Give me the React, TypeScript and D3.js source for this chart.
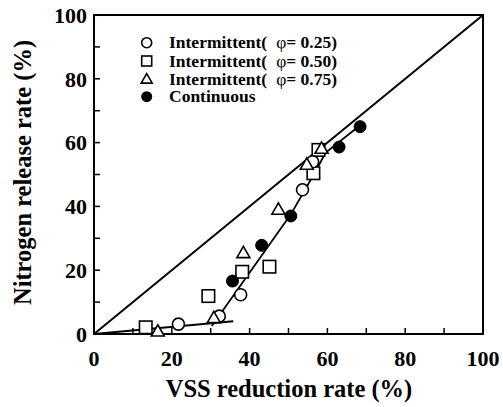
import React from "react";
import * as d3 from "d3";

const circles025: [number, number][] = [
  [21.7, 3.1], [32.2, 5.6], [37.7, 12.3], [53.6, 45.2], [56.2, 54.0],
];
const squares050: [number, number][] = [
  [13.3, 2.1], [29.4, 11.9], [38.1, 19.5], [45.1, 21.1], [56.4, 50.4], [57.7, 57.7],
];
const triangles075: [number, number][] = [
  [16.4, 0.7], [30.8, 4.9], [38.4, 25.3], [47.4, 38.9], [54.7, 53.0], [58.5, 58.0],
];
const continuous: [number, number][] = [
  [35.6, 16.6], [43.1, 27.8], [50.6, 37.0], [63.0, 58.6], [68.4, 65.0],
];
const diagonalLine: [number, number][] = [[0, 0], [100, 100]];
const lowFit: [number, number][] = [[0, 0], [35.8, 4.0]];
const steepFit: [number, number][] = [
  [30.3, 2.5], [50.6, 37.5], [57.2, 51.5], [59.5, 56.8], [69.0, 66.0],
];
const legendLabels = ["0.25", "0.50", "0.75"];
const xTicks = [0, 20, 40, 60, 80, 100];
const yTicks = [0, 20, 40, 60, 80, 100];
const minorTicks = d3.range(0, 101, 10);

const FONT = 'Liberation Serif, Times New Roman, Times, serif';
const textStyle: React.CSSProperties = { fontFamily: FONT, fontWeight: 700 };

export default function App() {
  const x = d3.scaleLinear().domain([0, 100]).range([94, 483]);
  const y = d3.scaleLinear().domain([0, 100]).range([334, 15]);
  const line = d3
    .line<[number, number]>()
    .x((d) => x(d[0]))
    .y((d) => y(d[1]));

  const r = 6;
  const sq = 12.5;
  const tri = (cx: number, cy: number, s: number) => {
    const h = s * 0.87;
    return `M${cx},${cy - h * 0.62}L${cx + s / 2},${cy + h * 0.38}L${cx - s / 2},${cy + h * 0.38}Z`;
  };

  const legX = 146.7;
  const legRows = [42.7, 61, 79, 96.7];
  const textX = 169;

  return (
    <svg
      width={503}
      height={407}
      style={{ position: "absolute", left: 0, top: 0, background: "#fff" }}
    >
      <rect x={0} y={0} width={503} height={407} fill="#fff" />
      {minorTicks.map((t) => (
        <line key={"xt" + t} x1={x(t)} x2={x(t)} y1={y(0)} y2={y(0) - 6} stroke="#000" strokeWidth={1.5} />
      ))}
      {minorTicks.map((t) => (
        <line key={"yt" + t} x1={x(0)} x2={x(0) + 6} y1={y(t)} y2={y(t)} stroke="#000" strokeWidth={1.5} />
      ))}
      <path d={line(diagonalLine) || ""} fill="none" stroke="#000" strokeWidth={2} />
      <path d={line(lowFit) || ""} fill="none" stroke="#000" strokeWidth={1.8} />
      <path d={line(steepFit) || ""} fill="none" stroke="#000" strokeWidth={1.8} />
      <rect x={x(0)} y={y(100)} width={x(100) - x(0)} height={y(0) - y(100)} fill="none" stroke="#000" strokeWidth={2} />
      {squares050.map((d, i) => (
        <rect key={"s" + i} x={x(d[0]) - sq / 2} y={y(d[1]) - sq / 2} width={sq} height={sq} fill="#fff" stroke="#000" strokeWidth={1.6} />
      ))}
      {circles025.map((d, i) => (
        <circle key={"c" + i} cx={x(d[0])} cy={y(d[1])} r={r} fill="#fff" stroke="#000" strokeWidth={1.6} />
      ))}
      {triangles075.map((d, i) => (
        <path key={"t" + i} d={tri(x(d[0]), y(d[1]), 13)} fill="#fff" stroke="#000" strokeWidth={1.6} />
      ))}
      {continuous.map((d, i) => (
        <circle key={"f" + i} cx={x(d[0])} cy={y(d[1])} r={r} fill="#000" stroke="#000" strokeWidth={1} />
      ))}
      {xTicks.map((t) => (
        <text key={"xl" + t} x={x(t)} y={366} textAnchor="middle" style={textStyle} fontSize={22}>
          {t}
        </text>
      ))}
      {yTicks.map((t) => (
        <text key={"yl" + t} x={87} y={y(t)} dy="0.35em" textAnchor="end" style={textStyle} fontSize={22}>
          {t}
        </text>
      ))}
      <text x={289} y={397} textAnchor="middle" style={textStyle} fontSize={24.5}>
        VSS reduction rate (%)
      </text>
      <text
        transform="translate(31,172.5) rotate(-90)"
        textAnchor="middle"
        style={textStyle}
        fontSize={24.5}
      >
        Nitrogen release rate (%)
      </text>
      <circle cx={legX} cy={legRows[0]} r={5} fill="#fff" stroke="#000" strokeWidth={1.6} />
      <rect x={legX - 5} y={legRows[1] - 5} width={10} height={10} fill="#fff" stroke="#000" strokeWidth={1.6} />
      <path d={tri(legX, legRows[2] + 0.5, 11)} fill="#fff" stroke="#000" strokeWidth={1.6} />
      <circle cx={legX} cy={legRows[3]} r={5.5} fill="#000" />
      {legendLabels.map((lab, i) => (
        <text key={"lg" + i} x={textX} y={legRows[i] + 5.5} style={textStyle} fontSize={17.5}>
          {"Intermittent("}
          <tspan dx={9} style={{ fontWeight: 400 }}>φ</tspan>
          {"= " + lab + ")"}
        </text>
      ))}
      <text x={textX} y={legRows[3] + 5.5} style={textStyle} fontSize={17.5}>
        Continuous
      </text>
    </svg>
  );
}
